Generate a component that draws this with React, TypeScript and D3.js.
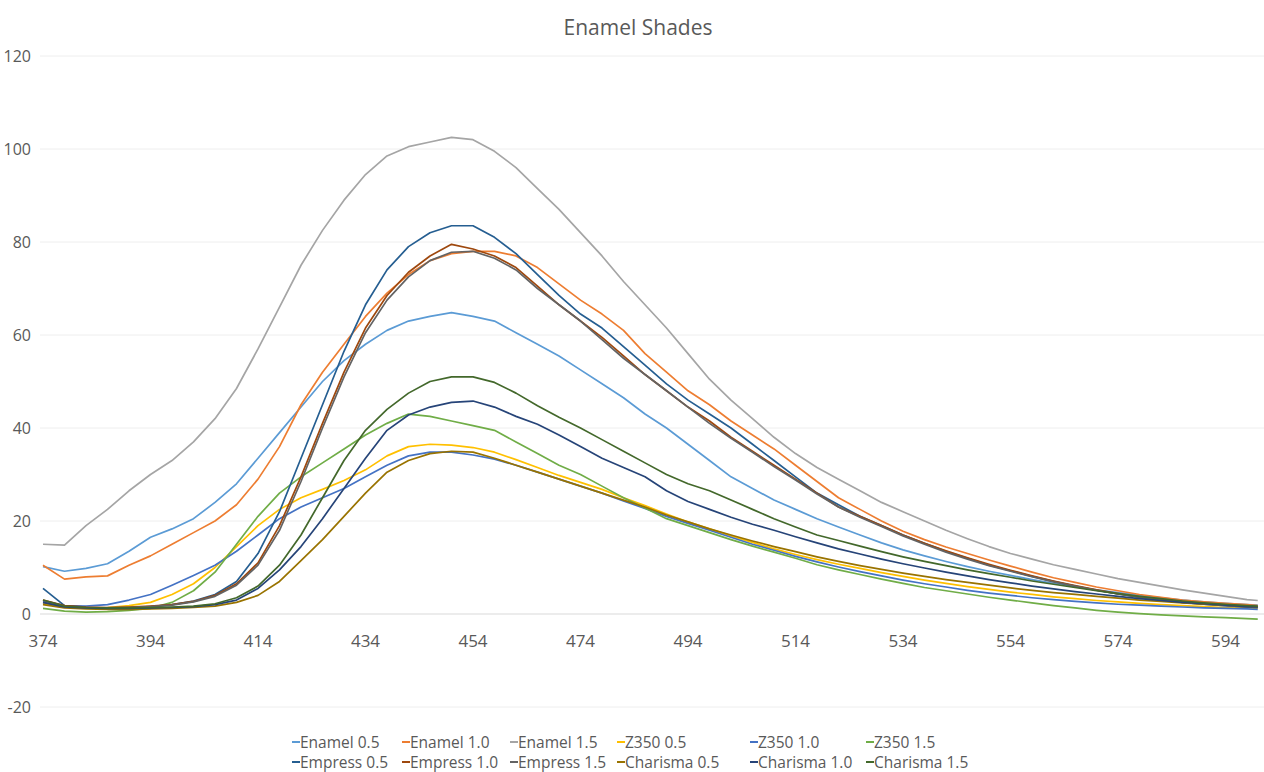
import React from 'react'
import * as d3 from 'd3'

// wavelength (nm) at each sample
const wavelengths = [374, 378, 382, 386, 390, 394, 398, 402, 406, 410, 414, 418, 422, 426, 430, 434, 438, 442, 446, 450,
  454, 458, 462, 466, 470, 474, 478, 482, 486, 490, 494, 498, 502, 506, 510, 514, 518, 522, 526, 530,
  534, 538, 542, 546, 550, 554, 558, 562, 566, 570, 574, 578, 582, 586, 590, 594, 598, 600]

const xTickLabels = [374, 394, 414, 434, 454, 474, 494, 514, 534, 554, 574, 594]
const yTickLabels = [-20, 0, 20, 40, 60, 80, 100, 120]

const enamel05 = [10.2, 9.2, 9.8, 10.8, 13.5, 16.5, 18.3, 20.5, 24, 28, 33.5, 39, 44.5, 50, 54.5, 58, 61, 63, 64, 64.8,
  64, 63, 60.5, 58, 55.5, 52.5, 49.5, 46.5, 43, 40, 36.5, 33, 29.5, 27, 24.5, 22.5, 20.5, 18.7, 17, 15.3,
  13.8, 12.5, 11.3, 10.2, 9.2, 8.3, 7.4, 6.6, 5.9, 5.2, 4.6, 4, 3.5, 3, 2.6, 2.3, 2, 1.9]
const enamel10 = [10.5, 7.5, 8, 8.2, 10.5, 12.5, 15, 17.5, 20, 23.5, 29, 36, 45, 52, 58, 64, 69, 73, 76, 77.5,
  78, 78, 77, 74.5, 71, 67.5, 64.5, 61, 56, 52, 48, 45, 41.5, 38.5, 35.5, 32, 28.5, 25, 22.5, 20,
  17.8, 16, 14.4, 13, 11.6, 10.3, 9, 7.8, 6.8, 5.8, 5, 4.2, 3.6, 3, 2.6, 2.3, 2, 1.8]
const enamel15 = [15, 14.8, 19, 22.5, 26.5, 30, 33, 37, 42, 48.5, 57, 66, 75, 82.5, 89, 94.5, 98.5, 100.5, 101.5, 102.5,
  102, 99.5, 96, 91.5, 87, 82, 77, 71.5, 66.5, 61.5, 56, 50.5, 46, 42, 38, 34.5, 31.5, 29, 26.5, 24,
  22, 20, 18, 16.2, 14.5, 13, 11.8, 10.6, 9.6, 8.6, 7.6, 6.8, 6, 5.2, 4.5, 3.8, 3.1, 2.9]
const z350_05 = [2.2, 1.5, 1.3, 1.4, 1.8, 2.5, 4.2, 6.5, 10, 14.5, 19, 22.5, 25, 26.8, 28.7, 31, 34, 36, 36.5, 36.3,
  35.8, 34.8, 33.2, 31.5, 29.8, 28.3, 26.8, 25, 23.3, 21.5, 19.8, 18.3, 16.8, 15.4, 14, 12.8, 11.7, 10.7, 9.8, 8.9,
  8.1, 7.3, 6.6, 5.9, 5.3, 4.7, 4.2, 3.7, 3.3, 2.9, 2.6, 2.3, 2, 1.8, 1.6, 1.4, 1.3, 1.2]
const z350_10 = [2.8, 1.8, 1.7, 2, 3, 4.2, 6.2, 8.3, 10.5, 13.5, 17, 20.5, 23, 25, 27, 29.5, 32, 34, 34.8, 34.8,
  34.2, 33.3, 32, 30.5, 29, 27.5, 26, 24.3, 22.7, 21, 19.5, 18, 16.5, 15, 13.7, 12.4, 11.2, 10.1, 9.1, 8.2,
  7.3, 6.5, 5.8, 5.1, 4.5, 4, 3.5, 3.1, 2.7, 2.4, 2.1, 1.9, 1.7, 1.5, 1.3, 1.2, 1.1, 1]
const z350_15 = [1.2, 0.6, 0.4, 0.5, 0.8, 1.2, 2.5, 5, 9, 15, 21, 26, 29.5, 32.5, 35.5, 38.5, 41, 43, 42.5, 41.5,
  40.5, 39.5, 37, 34.5, 32, 30, 27.5, 25, 22.8, 20.5, 19, 17.5, 16, 14.6, 13.3, 12, 10.6, 9.5, 8.5, 7.5,
  6.6, 5.7, 5, 4.3, 3.6, 3, 2.4, 1.8, 1.3, 0.8, 0.4, 0.1, -0.2, -0.4, -0.6, -0.8, -1, -1.1]
const empress05 = [5.5, 1.8, 1.4, 1.3, 1.4, 1.6, 2, 2.8, 4.2, 7, 13, 22, 33.5, 45, 56.5, 66.5, 74, 79, 82, 83.5,
  83.5, 81, 77.5, 73, 68.5, 64.5, 61.5, 57.5, 53.5, 49.5, 46, 43, 40, 36.5, 33, 29.5, 26, 23.5, 21, 19,
  17, 15.2, 13.5, 12, 10.5, 9.3, 8.1, 7, 6, 5.1, 4.3, 3.6, 3, 2.5, 2.1, 1.8, 1.5, 1.4]
const empress10 = [3, 1.8, 1.5, 1.4, 1.5, 1.7, 2, 2.7, 4, 6.5, 11, 19, 29.5, 41, 52, 61.5, 68.5, 73.5, 77, 79.5,
  78.5, 77, 74.5, 70.5, 66.5, 63, 59.5, 55.5, 51.5, 48, 44.5, 41.5, 38, 35, 32, 29, 26, 23, 21, 19,
  17, 15.2, 13.6, 12.1, 10.7, 9.4, 8.2, 7.1, 6.1, 5.2, 4.4, 3.7, 3.1, 2.6, 2.2, 1.9, 1.6, 1.5]
const empress15 = [2.5, 1.6, 1.4, 1.3, 1.4, 1.6, 1.9, 2.6, 3.8, 6.2, 10.5, 18, 28.5, 40, 51, 60.5, 67.5, 72.5, 76, 77.8,
  78, 76.5, 74, 70, 66.5, 63, 59, 55, 51.5, 48, 44.5, 41, 37.8, 34.8, 31.7, 28.8, 25.8, 23, 20.8, 18.8,
  16.8, 15, 13.3, 11.8, 10.4, 9.2, 8, 6.9, 6, 5.1, 4.3, 3.6, 3, 2.5, 2.1, 1.8, 1.5, 1.4]
const charisma05 = [2, 1.3, 1.1, 1, 1, 1.1, 1.2, 1.4, 1.7, 2.5, 4, 7, 11.5, 16, 21, 26, 30.5, 33, 34.5, 35,
  34.8, 33.5, 32, 30.5, 29, 27.5, 26, 24.5, 23, 21.3, 19.8, 18.3, 17, 15.7, 14.5, 13.4, 12.3, 11.3, 10.4, 9.6,
  8.8, 8.1, 7.4, 6.8, 6.2, 5.6, 5.1, 4.6, 4.2, 3.8, 3.4, 3, 2.7, 2.4, 2.1, 1.9, 1.7, 1.6]
const charisma10 = [2.5, 1.5, 1.3, 1.2, 1.2, 1.3, 1.4, 1.6, 2, 3, 5.5, 9.5, 14.5, 20.5, 27, 33.5, 39.5, 42.8, 44.5, 45.5,
  45.8, 44.5, 42.5, 40.8, 38.5, 36, 33.5, 31.5, 29.5, 26.5, 24.2, 22.5, 20.8, 19.3, 18, 16.6, 15.3, 14, 12.9, 11.8,
  10.8, 9.9, 9, 8.2, 7.4, 6.7, 6, 5.4, 4.8, 4.3, 3.8, 3.3, 2.9, 2.5, 2.2, 1.9, 1.6, 1.5]
const charisma15 = [3, 1.7, 1.4, 1.3, 1.3, 1.4, 1.5, 1.7, 2.2, 3.5, 6, 10.5, 17, 25, 33, 39.5, 44, 47.5, 50, 51,
  51, 49.8, 47.5, 44.8, 42.3, 40, 37.5, 35, 32.5, 30, 28, 26.5, 24.5, 22.5, 20.5, 18.7, 17, 15.8, 14.6, 13.4,
  12.3, 11.3, 10.4, 9.5, 8.7, 7.9, 7.1, 6.4, 5.7, 5, 4.4, 3.8, 3.3, 2.8, 2.4, 2.1, 1.8, 1.7]

const seriesNames = ['Enamel 0.5', 'Enamel 1.0', 'Enamel 1.5', 'Z350 0.5', 'Z350 1.0', 'Z350 1.5',
  'Empress 0.5', 'Empress 1.0', 'Empress 1.5', 'Charisma 0.5', 'Charisma 1.0', 'Charisma 1.5']
const seriesValues = [enamel05, enamel10, enamel15, z350_05, z350_10, z350_15,
  empress05, empress10, empress15, charisma05, charisma10, charisma15]

// office palette
const colors = ['#5B9BD5', '#ED7D31', '#A5A5A5', '#FFC000', '#4472C4', '#70AD47',
  '#255E91', '#9E480E', '#636363', '#997300', '#264478', '#43682B']

const W = 1264
const H = 772
const font = '"Open Sans", "Noto Sans", sans-serif'
const textColor = '#595959'
// legend columns (dash x) and rows (center y)
const legendCols = [292, 402, 510, 617, 750, 866]
const legendRows = [742, 762]

export default function App() {
  const x = d3.scaleLinear().domain([374, 600]).range([43, 1257.75])
  const y = d3.scaleLinear().domain([-20, 120]).range([707, 56])

  const line = d3.line<number>()
    .x((d, i) => x(wavelengths[i]))
    .y(d => y(d))

  return (
    <div>
      <style>{`body{margin:0}`}</style>
      <svg width={W} height={H} style={{display: 'block', background: '#fff'}}>
        <text x={638} y={35} textAnchor="middle" fontFamily={font} fontSize={21} fill={textColor}>Enamel Shades</text>

        <g id="grid">
          {yTickLabels.map(t => (
            <line key={t} x1={40} x2={W} y1={y(t)} y2={y(t)}
              stroke={t === 0 ? '#d9d9d9' : '#eeeeee'} strokeWidth={1} />
          ))}
        </g>

        <g id="y-labels">
          {yTickLabels.map(t => (
            <text key={t} x={31} y={y(t) + 6} textAnchor="end" fontFamily={font} fontSize={16} fill={textColor}>{t}</text>
          ))}
        </g>

        <g id="x-labels">
          {xTickLabels.map(t => (
            <text key={t} x={x(t)} y={647} textAnchor="middle" fontFamily={font} fontSize={17} fill={textColor}>{t}</text>
          ))}
        </g>

        <g id="lines">
          {seriesValues.map((vals, i) => (
            <path key={seriesNames[i]} d={line(vals) || ''} fill="none" stroke={colors[i]}
              strokeWidth={1.7} strokeLinejoin="round" />
          ))}
        </g>

        <g id="legend">
          {seriesNames.map((name, i) => {
            const cx = legendCols[i % 6]
            const cy = legendRows[Math.floor(i / 6)]
            return (
              <g key={name}>
                <line x1={cx} x2={cx + 8} y1={cy} y2={cy} stroke={colors[i]} strokeWidth={2} />
                <text x={cx + 8} y={cy + 5.5} fontFamily={font} fontSize={15.5} fill={textColor}>{name}</text>
              </g>
            )
          })}
        </g>
      </svg>
    </div>
  )
}
